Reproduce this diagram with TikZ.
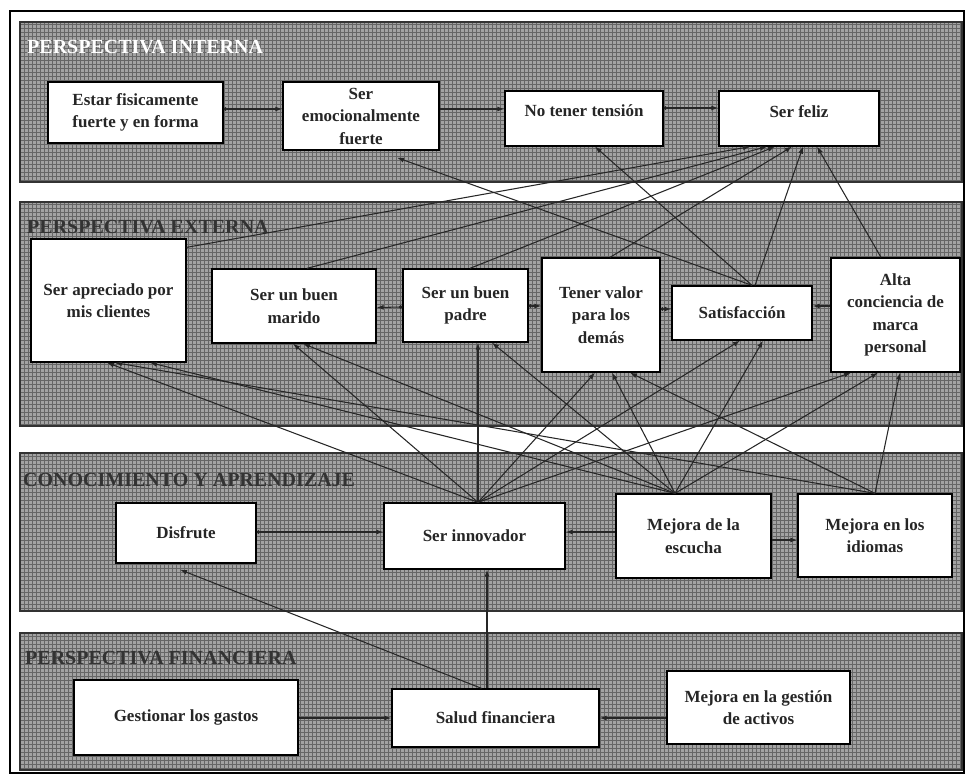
\documentclass[tikz,border=0pt]{standalone}
\usepackage{fontspec}
\setmainfont{Liberation Serif}
\usetikzlibrary{arrows.meta}
\begin{document}
\begin{tikzpicture}[x=1pt,y=-1pt,
  bandfill/.style={fill=black!36},
  gridl/.style={draw=black!60, line width=0.6pt},
  bandborder/.style={draw=black!80, line width=1.3pt},
  box/.style={draw=black, line width=1.3pt, fill=white, inner sep=2pt, align=center,
    font=\fontsize{17}{22.5}\selectfont\bfseries, text=black!85},
  lbl/.style={anchor=west, inner sep=0pt, font=\fontsize{20}{22}\selectfont\bfseries, text=black!80},
  conn/.style={line width=1.05pt, draw=black!85, -{Latex[length=7pt,width=5pt]}},
  hconn/.style={line width=1.05pt, draw=black!85, {Circle[length=3.5pt]}-{Latex[length=7pt,width=5pt]}}
]
\useasboundingbox (0,0) rectangle (966,775);
\fill[white] (0,0) rectangle (966,775);
% bands
\foreach \ya/\yb in {22/182, 202/426, 453/611, 633/770}{
  \fill[bandfill] (20,\ya) rectangle (962,\yb);
  \draw[gridl, step=4pt] (20,\ya) grid (962,\yb);
  \draw[bandborder] (20,\ya) rectangle (962,\yb);
}
% outer frame
\draw[line width=2pt] (10,11) rectangle (964,773);

% band labels
\node[lbl, text=white] (lint) at (27,47) {PERSPECTIVA INTERNA};
\node[lbl] (lext) at (27,227) {PERSPECTIVA EXTERNA};
\node[lbl] (lcon) at (23,480) {CONOCIMIENTO Y APRENDIZAJE};
\node[lbl] (lfin) at (25,658) {PERSPECTIVA FINANCIERA};

% band 1
\node[box, minimum width=175pt, minimum height=61pt] (estar) at (135.5,112.5) {Estar fisicamente\\fuerte y en forma};
\node[box, minimum width=156pt, minimum height=68pt] (emoc) at (361,116) {Ser\\emocionalmente\\fuerte};
\node[box, minimum width=158pt, minimum height=55pt, text depth=16pt] (tension) at (584,118.5) {No tener tensión};
\node[box, minimum width=160pt, minimum height=55pt, text depth=14pt] (feliz) at (799,118.5) {Ser feliz};

% band 2
\node[box, minimum width=155pt, minimum height=123pt] (apreciado) at (108.5,300.5) {Ser apreciado por\\mis clientes};
\node[box, minimum width=164pt, minimum height=74pt] (marido) at (294,306) {Ser un buen\\marido};
\node[box, minimum width=125pt, minimum height=73pt] (padre) at (465.5,305.5) {Ser un buen\\padre};
\node[box, minimum width=118pt, minimum height=114pt] (valor) at (601,315) {Tener valor\\para los\\demás};
\node[box, minimum width=140pt, minimum height=54pt] (satis) at (742,313) {Satisfacción};
\node[box, minimum width=129pt, minimum height=114pt] (alta) at (895.5,315) {Alta\\conciencia de\\marca\\personal};

% band 3
\node[box, minimum width=140pt, minimum height=60pt] (disfrute) at (186,533) {Disfrute};
\node[box, minimum width=181pt, minimum height=66pt] (innov) at (474.5,536) {Ser innovador};
\node[box, minimum width=155pt, minimum height=84pt] (escucha) at (693.5,536) {Mejora de la\\escucha};
\node[box, minimum width=154pt, minimum height=83pt] (idiomas) at (875,535.5) {Mejora en los\\idiomas};

% band 4
\node[box, minimum width=224pt, minimum height=75pt] (gastos) at (186,717.5) {Gestionar los gastos};
\node[box, minimum width=207pt, minimum height=58pt] (salud) at (495.5,718) {Salud financiera};
\node[box, minimum width=183pt, minimum height=73pt] (gestion) at (758.5,707.5) {Mejora en la gestión\\de activos};

% horizontal connectors
\draw[hconn] ([yshift=3.5pt]estar.east) -- ([yshift=7pt]emoc.west);
\draw[conn] ([yshift=7pt]emoc.east) -- ([yshift=9.5pt]tension.west);
\draw[hconn] ([yshift=10.5pt]tension.east) -- ([yshift=10.5pt]feliz.west);
\draw[hconn] ([yshift=-1.5pt]padre.west) -- ([yshift=-1.5pt]marido.east);
\draw[hconn] ([yshift=-0.5pt]padre.east) -- ([yshift=9pt]valor.west);
\draw[hconn] ([yshift=6pt]valor.east) -- ([yshift=4pt]satis.west);
\draw[conn] ([yshift=9pt]alta.west) -- ([yshift=7pt]satis.east);
\draw[hconn] ([yshift=1pt]disfrute.east) -- ([yshift=4pt]innov.west);
\draw[conn] ([yshift=4pt]escucha.west) -- ([yshift=4pt]innov.east);
\draw[conn] ([yshift=-4pt]escucha.east) -- ([yshift=-4.5pt]idiomas.west);
\draw[conn] ([yshift=-0.5pt]gastos.east) -- (salud.west);
\draw[conn] ([yshift=-10.5pt]gestion.west) -- (salud.east);

% financial to knowledge
\draw[conn] ([xshift=-8.5pt]salud.north) -- ([xshift=12.5pt]innov.south);
\draw[conn] ([xshift=-14pt]salud.north) -- ([xshift=-6pt,yshift=-6pt]disfrute.south);

% external to internal
\draw[conn] ([yshift=-9pt]apreciado.north east) -- ([xshift=-49pt]feliz.south);
\draw[conn] ([xshift=13pt]marido.north) -- ([xshift=-32pt]feliz.south);
\draw[conn] ([xshift=4.5pt]padre.north) -- ([xshift=-24pt]feliz.south);
\draw[conn] ([xshift=9pt]valor.north) -- ([xshift=-7pt]feliz.south);
\draw[conn] ([xshift=13pt]satis.north) -- ([xshift=4pt]feliz.south);
\draw[conn] ([xshift=-14.5pt]alta.north) -- ([xshift=18pt]feliz.south);
\draw[conn] ([xshift=10pt]satis.north) -- ([xshift=11pt]tension.south);
\draw[conn] ([xshift=10pt]satis.north) -- ([xshift=36pt,yshift=-7pt]emoc.south);

% knowledge to external: Ser innovador
\draw[conn] ([xshift=3.5pt]innov.north) -- ([xshift=-1.5pt]apreciado.south);
\draw[conn] ([xshift=3.5pt]innov.north) -- ([xshift=-1pt]marido.south);
\draw[conn] ([xshift=3.5pt]innov.north) -- ([xshift=12.5pt]padre.south);
\draw[conn] ([xshift=3.5pt]innov.north) -- ([xshift=-6pt]valor.south);
\draw[conn] ([xshift=3.5pt]innov.north) -- ([xshift=-2pt]satis.south);
\draw[conn] ([xshift=3.5pt]innov.north) -- ([xshift=-44.5pt]alta.south);

% Mejora de la escucha
\draw[conn] ([xshift=-18.5pt]escucha.north) -- ([xshift=41.5pt]apreciado.south);
\draw[conn] ([xshift=-18.5pt]escucha.north) -- ([xshift=9pt]marido.south);
\draw[conn] ([xshift=-18.5pt]escucha.north) -- ([xshift=26.5pt]padre.south);
\draw[conn] ([xshift=-18.5pt]escucha.north) -- ([xshift=11pt]valor.south);
\draw[conn] ([xshift=-18.5pt]escucha.north) -- ([xshift=21pt]satis.south);
\draw[conn] ([xshift=-18.5pt]escucha.north) -- ([xshift=-17.5pt]alta.south);

% Mejora en los idiomas
\draw[conn] (idiomas.north) -- ([xshift=6.5pt]apreciado.south);
\draw[conn] (idiomas.north) -- ([xshift=29pt]valor.south);
\draw[conn] (idiomas.north) -- ([xshift=4.5pt]alta.south);
\end{tikzpicture}
\end{document}
